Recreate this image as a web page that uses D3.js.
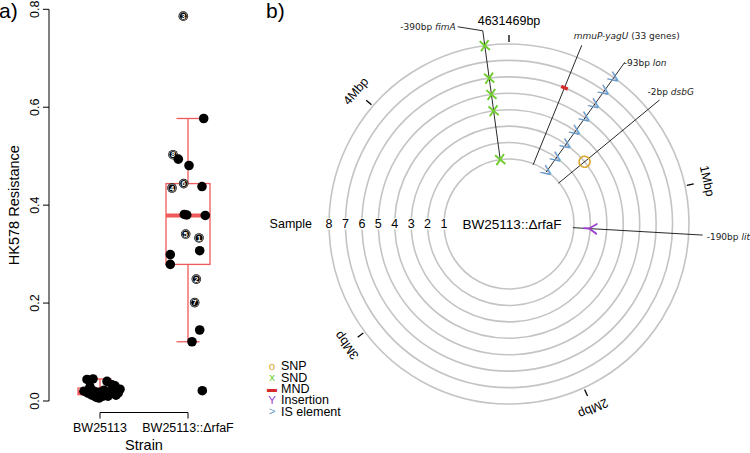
<!DOCTYPE html>
<html><head><meta charset="utf-8">
<script src="https://cdn.jsdelivr.net/npm/d3@7/dist/d3.min.js"></script>
<style>body{margin:0;background:#fff}svg{display:block;font-family:"Liberation Sans",Arial,sans-serif}</style>
</head><body>
<svg id="c" width="750" height="453"></svg>
<script>
// ---------- Panel a data ----------
const strains = ["BW25113", "BW25113::\u0394rfaF"];
const wtValues = [0.044,0.045,0.040,0.031,0.033,0.020,0.016,0.012,0.008,0.006,0.010,0.014,0.018,0.022,0.016,0.024,0.020,0.018,0.022,0.010,0.012,0.029,0.014];
const wtJitter = [-13,-7,7,15,12,-16,-12,-8,-4,-1,3,6,10,14,18,20,-6,0,4,8,16,-10,-2];
const mutValues = [0.786,0.577,0.503,0.494,0.481,0.444,0.435,0.438,0.381,0.380,0.379,0.341,0.333,0.307,0.299,0.279,0.249,0.201,0.145,0.121,0.021];
const mutJitter = [-4.7,15.7,-15,-9.7,1,-4.3,-16,14,-3.7,-1.3,17.3,-2.3,11,11.7,-17.7,-17.7,8.3,6.7,11.7,4,14.3];
const mutSampleLabel = ["3","","8","","","6","4","","","","","5","1","","","","2","7","","",""];
const yTicks = [0.0, 0.2, 0.4, 0.6, 0.8];

// ---------- Panel b data ----------
const genomeLength = 4631469;
const samples = [1,2,3,4,5,6,7,8];
const genomeTicks = [0, 1000000, 2000000, 3000000, 4000000];
const genomeTickLabels = ["4631469bp", "1Mbp", "2Mbp", "3Mbp", "4Mbp"];
const mutationTypes = ["SNP", "SND", "MND", "Insertion", "IS element"];
const mutationSymbols = ["o", "x", "\u25AC", "Y", ">"];
const mutPosition = [4532000, 285000, 458000, 650000, 1200000];
const mutType = ["SND", "MND", "IS element", "SNP", "Insertion"];
const mutSamples = [[1,4,5,6,8],[6],[1,2,3,4,5,6,7,8],[3],[2]];
const mutPrefix = ["-390bp ", "", "-93bp ", "-2bp ", "-190bp "];
const mutGene = ["fimA", "mmuP-yagU", "lon", "dsbG", "lit"];
const mutSuffix = ["", " (33 genes)", "", "", ""];

const typeColor = {"SNP":"#d9a528","SND":"#6fcd2e","MND":"#d42a2a","Insertion":"#9b3fcf","IS element":"#6a9ccc"};
const svg = d3.select("#c");

// ================= Panel a =================
const y = d3.scaleLinear().domain([0, 0.8]).range([401, 9.3]);
const x = d3.scalePoint().domain(strains).range([56, 232]).padding(0.5);
const red = "#f05a5a";

svg.append("text").attr("x", -1).attr("y", 18).attr("font-size", 21).text("a)");

// y axis
const ya = svg.append("g");
ya.append("line").attr("x1", 49).attr("x2", 49).attr("y1", y(0)).attr("y2", y(0.8)).attr("stroke", "#000");
yTicks.forEach(t => {
  ya.append("line").attr("x1", 43).attr("x2", 49).attr("y1", y(t)).attr("y2", y(t)).attr("stroke", "#000");
  ya.append("text").attr("transform", `translate(39,${y(t)}) rotate(-90)`).attr("text-anchor", "middle")
    .attr("font-size", 12.5).text(t.toFixed(1));
});
svg.append("text").attr("transform", `translate(19,${y(0.4)}) rotate(-90)`).attr("text-anchor", "middle")
  .attr("font-size", 14.5).text("HK578 Resistance");

// x axis
const xa = svg.append("g");
xa.append("line").attr("x1", x(strains[0])).attr("x2", x(strains[1])).attr("y1", 412.5).attr("y2", 412.5).attr("stroke", "#000");
strains.forEach(s => {
  xa.append("line").attr("x1", x(s)).attr("x2", x(s)).attr("y1", 412.5).attr("y2", 418.5).attr("stroke", "#000");
  xa.append("text").attr("x", x(s)).attr("y", 432).attr("text-anchor", "middle").attr("font-size", 12.5).text(s);
});
svg.append("text").attr("x", (x(strains[0]) + x(strains[1])) / 2).attr("y", 450).attr("text-anchor", "middle")
  .attr("font-size", 14.5).text("Strain");

function tukey(vals) {
  const s = vals.slice().sort(d3.ascending);
  const n = s.length;
  const med = d3.median(s);
  const half = Math.floor((n + 1) / 2);
  const lower = s.slice(0, half), upper = s.slice(n - half);
  const q1 = d3.median(lower), q3 = d3.median(upper);
  const iqr = q3 - q1;
  const lo = d3.min(s.filter(v => v >= q1 - 1.5 * iqr));
  const hi = d3.max(s.filter(v => v <= q3 + 1.5 * iqr));
  return {q1, med, q3, lo, hi};
}
const boxW = 44, capW = 23;
[[strains[0], wtValues], [strains[1], mutValues]].forEach(([s, vals]) => {
  const b = tukey(vals), cxp = x(s);
  const g = svg.append("g").attr("stroke", red).attr("fill", "none");
  g.append("line").attr("x1", cxp).attr("x2", cxp).attr("y1", y(b.q3)).attr("y2", y(b.hi)).attr("stroke-width", 1.3);
  g.append("line").attr("x1", cxp).attr("x2", cxp).attr("y1", y(b.q1)).attr("y2", y(b.lo)).attr("stroke-width", 1.3);
  g.append("line").attr("x1", cxp - capW / 2).attr("x2", cxp + capW / 2).attr("y1", y(b.hi)).attr("y2", y(b.hi)).attr("stroke-width", 1.3);
  g.append("line").attr("x1", cxp - capW / 2).attr("x2", cxp + capW / 2).attr("y1", y(b.lo)).attr("y2", y(b.lo)).attr("stroke-width", 1.3);
  g.append("rect").attr("x", cxp - boxW / 2).attr("width", boxW).attr("y", y(b.q3)).attr("height", Math.max(y(b.q1) - y(b.q3), 0.5)).attr("stroke-width", 1.3);
  g.append("line").attr("x1", cxp - boxW / 2).attr("x2", cxp + boxW / 2).attr("y1", y(b.med)).attr("y2", y(b.med)).attr("stroke-width", 4);
});

// points
const pg = svg.append("g");
wtValues.forEach((v, i) => {
  pg.append("circle").attr("cx", x(strains[0]) + wtJitter[i]).attr("cy", y(v)).attr("r", 4.8).attr("fill", "#000");
});
mutValues.forEach((v, i) => {
  const px = x(strains[1]) + mutJitter[i], py = y(v);
  pg.append("circle").attr("cx", px).attr("cy", py).attr("r", 4.8).attr("fill", "#000");
  if (mutSampleLabel[i]) {
    pg.append("circle").attr("cx", px).attr("cy", py).attr("r", 3.9).attr("fill", "none").attr("stroke", "#ddd").attr("stroke-width", 0.6);
    pg.append("text").attr("x", px).attr("y", py).attr("dy", "0.35em").attr("text-anchor", "middle")
      .attr("font-size", 7.5).attr("font-weight", "bold").attr("fill", "#fff").text(mutSampleLabel[i]);
  }
});

// ================= Panel b =================
const cx = 509, cy = 224;
const ang = d3.scaleLinear().domain([0, genomeLength]).range([0, 360]);
const rad = d3.scaleLinear().domain([1, 8]).range([65, 180]);
const pt = (a, r) => [cx + r * Math.sin(a * Math.PI / 180), cy - r * Math.cos(a * Math.PI / 180)];

svg.append("text").attr("x", 266).attr("y", 18).attr("font-size", 21).text("b)");

// rings with gap at sample labels
const arcGen = d3.arc();
samples.forEach(s => {
  const r = rad(s);
  const gap = Math.asin(5.5 / r);
  svg.append("path").attr("transform", `translate(${cx},${cy})`)
    .attr("d", arcGen({innerRadius: r, outerRadius: r, startAngle: -Math.PI / 2 + gap, endAngle: 1.5 * Math.PI - gap}))
    .attr("fill", "none").attr("stroke", "#c4c4c4").attr("stroke-width", 1.6);
  svg.append("text").attr("x", cx - r).attr("y", cy).attr("dy", "0.35em").attr("text-anchor", "middle")
    .attr("font-size", 12.5).text(s);
});
svg.append("text").attr("x", cx - rad(8) - 17).attr("y", cy).attr("dy", "0.35em").attr("text-anchor", "end")
  .attr("font-size", 12.5).text("Sample");
svg.append("text").attr("x", cx + 3).attr("y", cy).attr("dy", "0.35em").attr("text-anchor", "middle")
  .attr("font-size", 13.5).text("BW25113::\u0394rfaF");

// genome ticks
genomeTicks.forEach((t, i) => {
  const a = ang(t);
  const p1 = pt(a, 182), p2 = pt(a, 189), pl = pt(a, 203);
  svg.append("line").attr("x1", p1[0]).attr("y1", p1[1]).attr("x2", p2[0]).attr("y2", p2[1]).attr("stroke", "#000").attr("stroke-width", 1.3);
  svg.append("text").attr("transform", `translate(${pl[0]},${pl[1]}) rotate(${a})`).attr("text-anchor", "middle")
    .attr("dy", "0.35em").attr("font-size", 12.5).text(genomeTickLabels[i]);
});

// leader lines + labels
const labelOffsets = [[-25, -4], [-8, -9], [-1, 1], [-12, -8], [4, 1.5]];
const endR = [195, 193, 199, 195, 194];
mutPosition.forEach((pos, i) => {
  const a = ang(pos);
  const p0 = pt(a, 64), p1 = pt(a, endR[i]);
  const g = svg.append("g");
  g.append("line").attr("x1", p0[0]).attr("y1", p0[1]).attr("x2", p1[0]).attr("y2", p1[1]).attr("stroke", "#111").attr("stroke-width", 0.9);
  let lx = p1[0] + labelOffsets[i][0], ly = p1[1] + labelOffsets[i][1], anchor = "start";
  if (i === 0) {
    g.append("line").attr("x1", p1[0]).attr("y1", p1[1]).attr("x2", lx).attr("y2", ly).attr("stroke", "#111").attr("stroke-width", 0.9);
    lx -= 2; anchor = "end";
  }
  const t = g.append("text").attr("x", lx).attr("y", ly).attr("dy", "0.35em").attr("text-anchor", anchor)
    .attr("font-family", "DejaVu Sans").attr("font-size", 9).attr("fill", "#222");
  t.append("tspan").text(mutPrefix[i]);
  t.append("tspan").attr("font-style", "italic").text(mutGene[i]);
  t.append("tspan").text(mutSuffix[i]);
});

// markers
mutPosition.forEach((pos, i) => {
  const a = ang(pos), type = mutType[i], col = typeColor[type];
  mutSamples[i].forEach(s => {
    const r = rad(s), p = pt(a, r);
    const g = svg.append("g").attr("transform", `translate(${p[0]},${p[1]}) rotate(${a})`);
    if (type === "SND") {
      g.append("path").attr("d", "M-4.5,-5L4.5,5M-4.5,5L4.5,-5").attr("stroke", col).attr("stroke-width", 1.9);
    } else if (type === "SNP") {
      g.append("circle").attr("r", 5.5).attr("fill", "none").attr("stroke", col).attr("stroke-width", 1.6);
    } else if (type === "MND") {
      g.append("line").attr("x1", -3.5).attr("x2", 3.5).attr("stroke", col).attr("stroke-width", 3.5);
    } else {
      g.append("text").attr("text-anchor", "middle").attr("dy", "0.35em").attr("font-size", 20)
        .attr("fill", col).text(type === "Insertion" ? "Y" : ">");
    }
  });
});

// legend
mutationTypes.forEach((m, i) => {
  const ly = 366 + i * 11.3;
  svg.append("text").attr("x", 272).attr("y", ly).attr("dy", "0.35em").attr("text-anchor", "middle")
    .attr("font-size", m === "MND" ? 10 : 11.5).attr("fill", typeColor[m]).text(mutationSymbols[i]);
  svg.append("text").attr("x", 281).attr("y", ly).attr("dy", "0.35em").attr("font-size", 12.5).text(m);
});
</script>
</body></html>
